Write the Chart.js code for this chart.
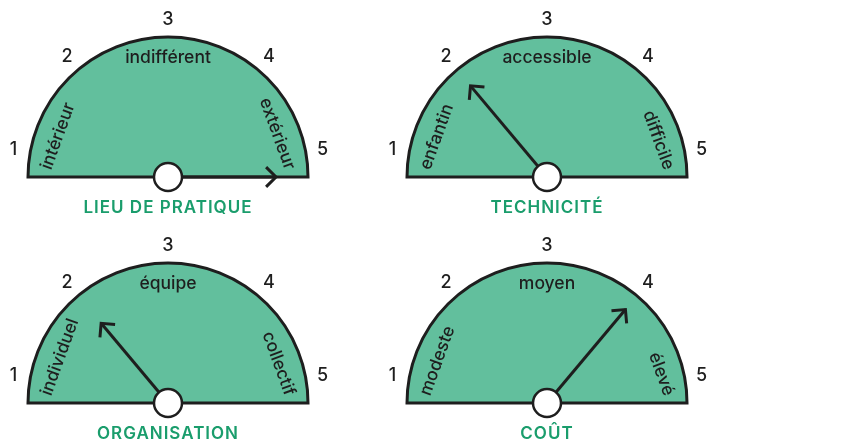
<!DOCTYPE html>
<html>
<head>
<meta charset="utf-8">
<script src="https://cdn.jsdelivr.net/npm/chart.js@4"></script>
<style>
  html, body { margin: 0; padding: 0; background: #fff; overflow: hidden; }
  body { width: 865px; height: 443px; position: relative; }
  canvas { position: absolute; }
</style>
</head>
<body>
<canvas id="g0" width="350" height="222" style="left:0;top:0"></canvas>
<canvas id="g1" width="350" height="222" style="left:379px;top:0"></canvas>
<canvas id="g2" width="350" height="222" style="left:0;top:226px"></canvas>
<canvas id="g3" width="350" height="222" style="left:379px;top:226px"></canvas>
<script>
// gauge data
const titles = ['LIEU DE PRATIQUE', 'TECHNICITÉ', 'ORGANISATION', 'COÛT'];
const values = [5.25, 2, 2, 4];
const leftLabels = ['intérieur', 'enfantin', 'individuel', 'modeste'];
const middleLabels = ['indifférent', 'accessible', 'équipe', 'moyen'];
const rightLabels = ['extérieur', 'difficile', 'collectif', 'élevé'];
const tickLabels = ['1', '2', '3', '4', '5'];
const scaleMin = 0.75;
const scaleMax = 5.25;

// styling
const ink = '#1e1e1e';
const fill = '#62bf9d';
const titleGreen = '#1a9d6c';
const needleLengths = [108, 119, 104, 122];

// Plugin drawing the needle, hub and the texts around each gauge
const gaugeDecor = {
    id: 'gaugeDecor',
    afterDatasetsDraw(chart, args, opts) {
        const arc = chart.getDatasetMeta(0).data[0];
        const cx = arc.x, cy = arc.y, r = arc.outerRadius;
        const ctx = chart.ctx;
        const i = opts.index;
        const toAngle = v => Math.PI * (1 - (v - scaleMin) / (scaleMax - scaleMin));

        ctx.save();
        ctx.fillStyle = ink;

        // tick numbers around the arc
        ctx.font = '500 18px Inter';
        ctx.textAlign = 'center';
        ctx.textBaseline = 'middle';
        tickLabels.forEach(t => {
            const a = toAngle(Number(t));
            ctx.fillText(t, cx + (r + 17) * Math.cos(a), cy - (r + 17) * Math.sin(a));
        });

        // labels inside the gauge
        ctx.font = '500 17.5px Inter';
        ctx.fillText(middleLabels[i], cx, cy - 119);

        ctx.save();
        ctx.translate(cx - 122, cy - 8);
        ctx.rotate(-70 * Math.PI / 180);
        ctx.textAlign = 'left';
        ctx.fillText(leftLabels[i], 0, 0);
        ctx.restore();

        ctx.save();
        ctx.translate(cx + 122, cy - 8);
        ctx.rotate(70 * Math.PI / 180);
        ctx.textAlign = 'right';
        ctx.fillText(rightLabels[i], 0, 0);
        ctx.restore();

        // needle
        const a = toAngle(values[i]);
        const len = needleLengths[i];
        const tx = cx + len * Math.cos(a);
        const ty = cy - len * Math.sin(a);
        const back = a + Math.PI;
        const arm = 14;
        ctx.strokeStyle = ink;
        ctx.lineWidth = 3;
        ctx.lineJoin = 'miter';
        ctx.beginPath();
        ctx.moveTo(cx, cy);
        ctx.lineTo(tx, ty);
        ctx.stroke();
        ctx.beginPath();
        ctx.moveTo(tx + arm * Math.cos(back + Math.PI / 4), ty - arm * Math.sin(back + Math.PI / 4));
        ctx.lineTo(tx, ty);
        ctx.lineTo(tx + arm * Math.cos(back - Math.PI / 4), ty - arm * Math.sin(back - Math.PI / 4));
        ctx.stroke();

        // hub
        ctx.beginPath();
        ctx.arc(cx, cy, 14, 0, Math.PI * 2);
        ctx.fillStyle = '#fff';
        ctx.fill();
        ctx.lineWidth = 2.5;
        ctx.stroke();

        // title
        ctx.fillStyle = titleGreen;
        ctx.font = '600 17px Inter';
        ctx.letterSpacing = '1px';
        ctx.textAlign = 'center';
        ctx.fillText(titles[i], cx, cy + 31);
        ctx.restore();
    }
};

function makeGauge(i) {
    const ctx = document.getElementById('g' + i).getContext('2d');
    new Chart(ctx, {
        type: 'pie',
        data: {
            labels: [titles[i]],
            datasets: [{
                data: [scaleMax - scaleMin],
                backgroundColor: fill,
                borderColor: ink,
                borderWidth: 3,
                borderJoinStyle: 'miter'
            }]
        },
        options: {
            responsive: false,
            animation: false,
            events: [],
            rotation: -90,
            circumference: 180,
            radius: 140,
            layout: { padding: { left: 20, right: 34, top: 30, bottom: 38 } },
            plugins: {
                legend: { display: false },
                tooltip: { enabled: false },
                gaugeDecor: { index: i }
            }
        },
        plugins: [gaugeDecor]
    });
}

[0, 1, 2, 3].forEach(makeGauge);
</script>
</body>
</html>
